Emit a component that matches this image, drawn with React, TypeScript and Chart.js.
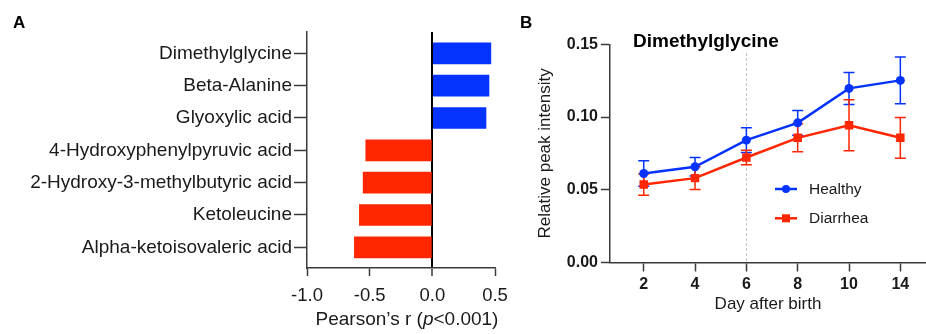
import React, { useEffect, useRef } from "react";
import { Chart, registerables } from "chart.js";

Chart.register(...registerables);

// ---------- Data ----------
const metabolites = [
  "Dimethylglycine",
  "Beta-Alanine",
  "Glyoxylic acid",
  "4-Hydroxyphenylpyruvic acid",
  "2-Hydroxy-3-methylbutyric acid",
  "Ketoleucine",
  "Alpha-ketoisovaleric acid",
];
const pearsonR = [0.467, 0.452, 0.428, -0.531, -0.552, -0.582, -0.622];
const pearsonTicks = [-1.0, -0.5, 0.0, 0.5];

const days = ["2", "4", "6", "8", "10", "14"];
const healthyMean = [0.0612, 0.0658, 0.0841, 0.096, 0.1197, 0.1252];
const healthyErr = [0.0087, 0.0064, 0.0085, 0.0085, 0.011, 0.016];
const diarrheaMean = [0.0536, 0.058, 0.0722, 0.0857, 0.0944, 0.0857];
const diarrheaErr = [0.0073, 0.0078, 0.005, 0.0096, 0.0175, 0.014];
const intensityTicks = [0, 0.05, 0.1, 0.15];
const cutoffDay = "6";

// ---------- Styles ----------
const FONT = "'Liberation Sans', Arial, Helvetica, sans-serif";
const BLUE = "#0433FF";
const RED = "#FF2600";
const AXIS = "#3a3a3a";
const TEXT = "#1a1a1a";

Chart.defaults.font.family = FONT;

function zeroPad(s: any) {
  s.paddingLeft = 0;
  s.paddingRight = 0;
  s.paddingTop = 0;
  s.paddingBottom = 0;
}

function panelLabel(text: string, x: number, y: number) {
  return {
    id: "panelLabel" + text,
    afterDraw(chart: any) {
      const ctx = chart.ctx;
      ctx.save();
      ctx.font = `bold 17px ${FONT}`;
      ctx.fillStyle = "#000";
      ctx.textBaseline = "middle";
      ctx.textAlign = "left";
      ctx.fillText(text, x, y);
      ctx.restore();
    },
  };
}

const pearsonTitlePlugin = {
  id: "pearsonTitle",
  afterDraw(chart: any) {
    const ctx = chart.ctx;
    const area = chart.chartArea;
    const parts = [
      { t: "Pearson\u2019s r (", f: `19px ${FONT}` },
      { t: "p", f: `italic 19px ${FONT}` },
      { t: "<0.001)", f: `19px ${FONT}` },
    ];
    ctx.save();
    let total = 0;
    for (const p of parts) {
      ctx.font = p.f;
      total += ctx.measureText(p.t).width;
    }
    let x = (area.left + area.right) / 2 + 6 - total / 2;
    ctx.fillStyle = TEXT;
    ctx.textBaseline = "middle";
    ctx.textAlign = "left";
    for (const p of parts) {
      ctx.font = p.f;
      ctx.fillText(p.t, x, 320);
      x += ctx.measureText(p.t).width;
    }
    ctx.restore();
  },
};

const errorSeries = [
  { mean: healthyMean, err: healthyErr, color: BLUE },
  { mean: diarrheaMean, err: diarrheaErr, color: RED },
];

const errorBarPlugin = {
  id: "errorBars",
  beforeDatasetsDraw(chart: any) {
    const ctx = chart.ctx;
    const xs = chart.scales.x;
    const ys = chart.scales.y;
    ctx.save();
    ctx.lineWidth = 1.5;
    for (const s of errorSeries) {
      ctx.strokeStyle = s.color;
      s.mean.forEach((m, i) => {
        const x = xs.getPixelForValue(i);
        const yt = ys.getPixelForValue(m + s.err[i]);
        const yb = ys.getPixelForValue(m - s.err[i]);
        const cap = 5.5;
        ctx.beginPath();
        ctx.moveTo(x, yt);
        ctx.lineTo(x, yb);
        ctx.moveTo(x - cap, yt);
        ctx.lineTo(x + cap, yt);
        ctx.moveTo(x - cap, yb);
        ctx.lineTo(x + cap, yb);
        ctx.stroke();
      });
    }
    ctx.restore();
  },
};

const cutoffPlugin = {
  id: "cutoff",
  beforeDatasetsDraw(chart: any) {
    const ctx = chart.ctx;
    const xs = chart.scales.x;
    const ys = chart.scales.y;
    const x = Math.round(xs.getPixelForValue(days.indexOf(cutoffDay))) + 0.5;
    ctx.save();
    ctx.strokeStyle = "#c4c4c4";
    ctx.lineWidth = 1;
    ctx.setLineDash([3, 2]);
    ctx.beginPath();
    ctx.moveTo(x, ys.getPixelForValue(0.144));
    ctx.lineTo(x, chart.chartArea.bottom);
    ctx.stroke();
    ctx.restore();
  },
};

const bTitleLegendPlugin = {
  id: "bTitleLegend",
  afterDraw(chart: any) {
    const ctx = chart.ctx;
    const left = chart.chartArea.left;
    ctx.save();
    ctx.font = `bold 19px ${FONT}`;
    ctx.fillStyle = "#000";
    ctx.textBaseline = "middle";
    ctx.textAlign = "left";
    ctx.fillText("Dimethylglycine", left + 23, 41.7);

    const items = [
      { label: "Healthy", color: BLUE, style: "circle", y: 189 },
      { label: "Diarrhea", color: RED, style: "rect", y: 218.3 },
    ];
    for (const it of items) {
      const x0 = left + 165;
      const x1 = left + 187;
      ctx.strokeStyle = it.color;
      ctx.fillStyle = it.color;
      ctx.lineWidth = 2.5;
      ctx.beginPath();
      ctx.moveTo(x0, it.y);
      ctx.lineTo(x1, it.y);
      ctx.stroke();
      const cx = (x0 + x1) / 2;
      if (it.style === "circle") {
        ctx.beginPath();
        ctx.arc(cx, it.y, 4, 0, Math.PI * 2);
        ctx.fill();
      } else {
        ctx.fillRect(cx - 4, it.y - 4, 8, 8);
      }
      ctx.fillStyle = TEXT;
      ctx.font = `15.5px ${FONT}`;
      ctx.fillText(it.label, left + 199, it.y + 0.5);
    }
    ctx.restore();
  },
};

export default function App() {
  const refA = useRef<HTMLCanvasElement>(null);
  const refB = useRef<HTMLCanvasElement>(null);

  useEffect(() => {
    const chartA = new Chart(refA.current as HTMLCanvasElement, {
      type: "bar",
      data: {
        datasets: [
          {
            data: metabolites.map((_, i) => ({ x: pearsonR[i], y: i })),
            backgroundColor: pearsonR.map((v) => (v >= 0 ? BLUE : RED)),
            barThickness: 21,
            borderWidth: 0,
          } as any,
        ],
      },
      options: {
        indexAxis: "y",
        responsive: false,
        animation: false,
        devicePixelRatio: 1,
        layout: { autoPadding: false, padding: { left: 0, right: 17, top: 32, bottom: 0 } },
        plugins: { legend: { display: false }, tooltip: { enabled: false } },
        scales: {
          x: {
            type: "linear",
            min: -1,
            max: 0.5,
            offset: false,
            afterBuildTicks: (s: any) => {
              s.ticks = pearsonTicks.map((v) => ({ value: v }));
            },
            ticks: {
              callback: (v: any) => Number(v).toFixed(1),
              font: { size: 18.5, family: FONT },
              color: TEXT,
              padding: 9,
              maxRotation: 0,
            },
            grid: {
              offset: false,
              drawOnChartArea: true,
              color: (c: any) => (c.tick && c.tick.value === 0 ? "#000" : "rgba(0,0,0,0)"),
              lineWidth: (c: any) => (c.tick && c.tick.value === 0 ? 2 : 1),
              tickColor: AXIS,
              tickLength: 8,
              tickWidth: 1.5,
            },
            border: { color: AXIS, width: 1.5 },
            afterFit: (s: any) => {
              s.height = 66;
              zeroPad(s);
            },
          } as any,
          y: {
            type: "linear",
            reverse: true,
            min: -0.66,
            max: 6.64,
            offset: false,
            afterBuildTicks: (s: any) => {
              s.ticks = metabolites.map((_, i) => ({ value: i }));
            },
            ticks: {
              callback: (v: any) => metabolites[v] ?? "",
              font: { size: 19, family: FONT },
              color: TEXT,
              padding: 2,
            },
            grid: {
              offset: false,
              drawOnChartArea: false,
              tickColor: AXIS,
              tickLength: 13,
              tickWidth: 1.5,
            },
            border: { color: AXIS, width: 1.5 },
            afterFit: (s: any) => {
              s.width = 307;
              zeroPad(s);
            },
          } as any,
        },
      },
      plugins: [pearsonTitlePlugin, panelLabel("A", 13, 23.3)],
    });

    const chartB = new Chart(refB.current as HTMLCanvasElement, {
      type: "line",
      data: {
        datasets: [
          {
            label: "Healthy",
            data: days.map((_, i) => ({ x: i, y: healthyMean[i] })),
            borderColor: BLUE,
            backgroundColor: BLUE,
            borderWidth: 2.5,
            pointStyle: "circle",
            pointRadius: 4.5,
            pointBorderWidth: 0,
            order: 1,
          },
          {
            label: "Diarrhea",
            data: days.map((_, i) => ({ x: i, y: diarrheaMean[i] })),
            borderColor: RED,
            backgroundColor: RED,
            borderWidth: 2.5,
            pointStyle: "rect",
            pointRadius: 6,
            pointBorderWidth: 0,
            order: 0,
          },
        ] as any,
      },
      options: {
        responsive: false,
        animation: false,
        devicePixelRatio: 1,
        layout: { autoPadding: false, padding: { left: 0, right: 0, top: 44.3, bottom: 0 } },
        plugins: { legend: { display: false }, tooltip: { enabled: false } },
        scales: {
          x: {
            type: "linear",
            min: -0.657,
            max: 5.5,
            afterBuildTicks: (s: any) => {
              s.ticks = days.map((_, i) => ({ value: i }));
            },
            ticks: {
              callback: (v: any) => days[v] ?? "",
              font: { size: 16, weight: "bold", family: FONT },
              color: TEXT,
              padding: 3,
              maxRotation: 0,
            },
            grid: {
              drawOnChartArea: false,
              tickColor: AXIS,
              tickLength: 9,
              tickWidth: 1.5,
            },
            border: { color: AXIS, width: 1.5 },
            title: {
              display: true,
              text: "Day after birth",
              font: { size: 17, family: FONT },
              color: TEXT,
              padding: { top: 0, bottom: 19.5 },
            },
            afterFit: (s: any) => {
              s.height = 71.5;
              zeroPad(s);
            },
          } as any,
          y: {
            type: "linear",
            min: 0,
            max: 0.15,
            afterBuildTicks: (s: any) => {
              s.ticks = intensityTicks.map((v) => ({ value: v }));
            },
            ticks: {
              callback: (v: any) => Number(v).toFixed(2),
              font: { size: 16, weight: "bold", family: FONT },
              color: TEXT,
              padding: 3,
            },
            grid: {
              drawOnChartArea: false,
              tickColor: AXIS,
              tickLength: 9,
              tickWidth: 1.5,
            },
            border: { color: AXIS, width: 1.5 },
            title: {
              display: true,
              text: "Relative peak intensity",
              font: { size: 17, family: FONT },
              color: TEXT,
              padding: { top: 22.8, bottom: 0 },
            },
            afterFit: (s: any) => {
              s.width = 98;
              zeroPad(s);
            },
          } as any,
        },
      },
      plugins: [cutoffPlugin, errorBarPlugin, bTitleLegendPlugin, panelLabel("B", 8, 23.3)],
    });

    return () => {
      chartA.destroy();
      chartB.destroy();
    };
  }, []);

  return (
    <div style={{ position: "absolute", left: 0, top: 0, width: 926, height: 334, background: "#fff" }}>
      <canvas
        ref={refA}
        width={512}
        height={334}
        style={{ position: "absolute", left: 0, top: 0, width: 512, height: 334 }}
      />
      <canvas
        ref={refB}
        width={414}
        height={334}
        style={{ position: "absolute", left: 512, top: 0, width: 414, height: 334 }}
      />
    </div>
  );
}
